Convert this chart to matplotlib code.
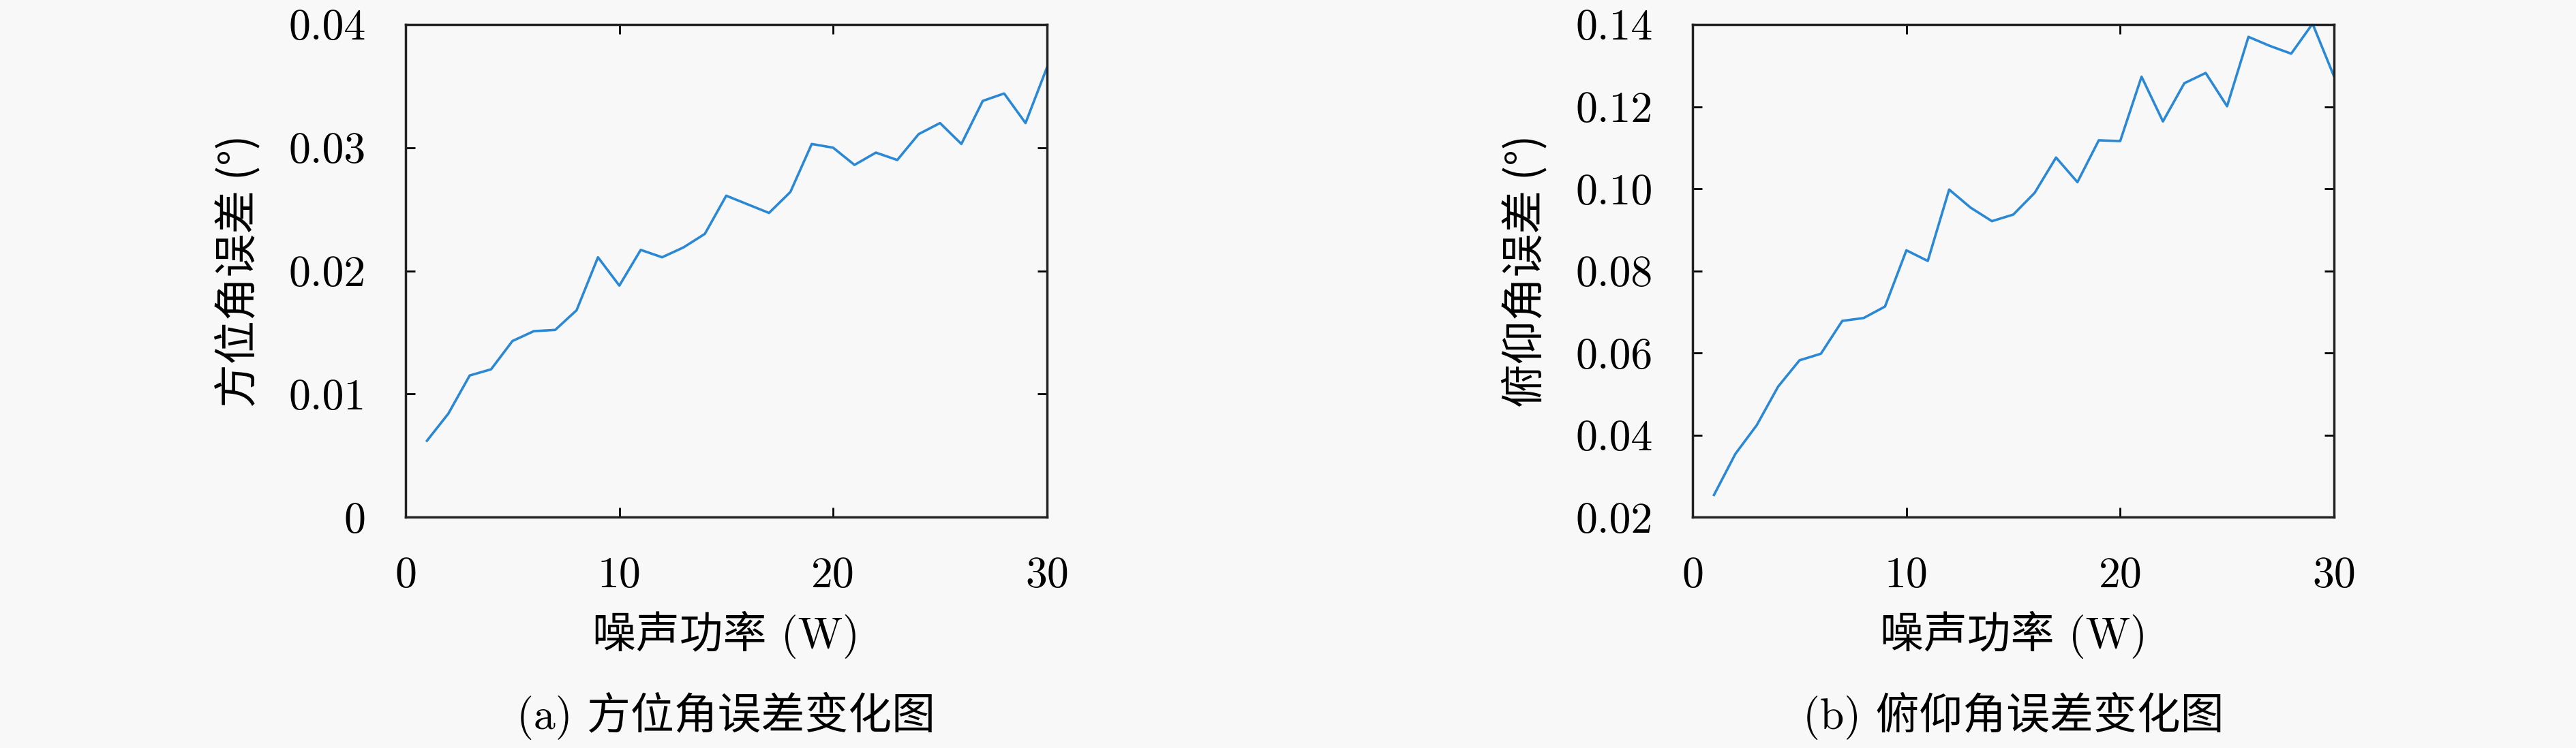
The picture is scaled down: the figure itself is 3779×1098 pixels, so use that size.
import matplotlib
matplotlib.use('Agg')
import matplotlib.pyplot as plt

plt.rcParams['font.family'] = ['cmr10', 'Noto Sans CJK SC', 'DejaVu Sans']
plt.rcParams['mathtext.fontset'] = 'cm'
plt.rcParams['axes.unicode_minus'] = False
plt.rcParams['axes.formatter.use_mathtext'] = True

# noise power (W)
power = list(range(1, 31))

# azimuth error (deg)
azimuth_err = [0.0062, 0.0084, 0.0115, 0.0120, 0.0143, 0.0151, 0.0152, 0.0168, 0.0211, 0.0188,
               0.0217, 0.0211, 0.0219, 0.0230, 0.0261, 0.0254, 0.0247, 0.0264, 0.0303, 0.0300,
               0.0286, 0.0296, 0.0290, 0.0311, 0.0320, 0.0303, 0.0338, 0.0344, 0.0320, 0.0365]

# elevation error (deg)
elevation_err = [0.0254, 0.0354, 0.0424, 0.0518, 0.0582, 0.0598, 0.0678, 0.0685, 0.0713, 0.0850,
                 0.0824, 0.0998, 0.0954, 0.0921, 0.0937, 0.0990, 0.1076, 0.1016, 0.1118, 0.1116,
                 0.1273, 0.1164, 0.1257, 0.1282, 0.1201, 0.1370, 0.1348, 0.1329, 0.1402, 0.1274]

xticks = [0, 10, 20, 30]
az_yticks = [0, 0.01, 0.02, 0.03, 0.04]
az_yticklabels = ['0', '0.01', '0.02', '0.03', '0.04']
el_yticks = [0.02, 0.04, 0.06, 0.08, 0.10, 0.12, 0.14]
el_yticklabels = ['0.02', '0.04', '0.06', '0.08', '0.10', '0.12', '0.14']

bg = '#f8f8f8'
blue = '#2b88d4'
fs = 46

fig = plt.figure(figsize=(37.8, 10.98), dpi=100, facecolor=bg)
ax1 = fig.add_axes([0.1574, 0.3087, 0.2489, 0.6585], facecolor=bg)
ax2 = fig.add_axes([0.6569, 0.3087, 0.2489, 0.6585], facecolor=bg)

panels = [
    (ax1, azimuth_err, az_yticks, az_yticklabels, '方位角误差 (°)', '(a) 方位角误差变化图'),
    (ax2, elevation_err, el_yticks, el_yticklabels, '俯仰角误差 (°)', '(b) 俯仰角误差变化图'),
]

for ax, vals, yt, ytl, ylab, cap in panels:
    ax.plot(power, vals, color=blue, lw=2.6)
    ax.set_xlim(0, 30)
    ax.set_ylim(yt[0], yt[-1])
    ax.set_xticks(xticks)
    ax.set_xticklabels([str(t) for t in xticks])
    ax.set_yticks(yt)
    ax.set_yticklabels(ytl)
    ax.tick_params(direction='in', top=True, right=True, length=10, width=2,
                   labelsize=fs, pad=42)
    for s in ax.spines.values():
        s.set_linewidth(2.5)
        s.set_color('#222222')
    ax.set_ylabel(ylab, fontsize=fs, family=['Noto Sans CJK SC', 'DejaVu Sans'])
    ax.yaxis.set_label_coords(-0.225, 0.5)
    ax.set_xlabel('噪声功率 (W)', fontsize=fs)
    ax.xaxis.set_label_coords(0.5, -0.19)
    ax.text(0.5, -0.355, cap, transform=ax.transAxes, ha='center', va='top', fontsize=fs)

fig.savefig('out.png', dpi=100, facecolor=bg)
